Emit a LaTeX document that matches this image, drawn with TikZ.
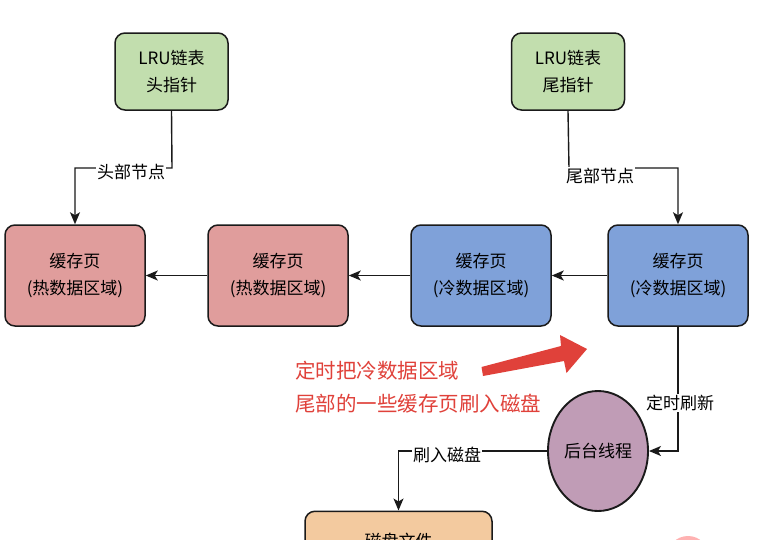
\documentclass[tikz,border=0pt]{standalone}
\usepackage{fontspec}
\setmainfont{Noto Sans CJK SC}
\usetikzlibrary{arrows.meta,shapes.geometric}
\definecolor{boxgreen}{HTML}{C2DEAE}
\definecolor{boxred}{HTML}{E09D9C}
\definecolor{boxblue}{HTML}{7FA1D9}
\definecolor{boxpurple}{HTML}{C09CB6}
\definecolor{boxorange}{HTML}{F3CA9F}
\definecolor{noteRed}{HTML}{E0413A}
\definecolor{edge}{HTML}{1A1A1A}
\tikzset{
  box/.style={draw=edge, line width=1.5pt, rounded corners=10pt, align=center,
    font=\fontsize{17}{27}\selectfont, inner sep=0pt},
  ptrbox/.style={box, fill=boxgreen, minimum width=113pt, minimum height=77pt},
  pagebox/.style={box, minimum width=140pt, minimum height=101pt},
  link/.style={draw=edge, line width=1.4pt, -{Stealth[length=12pt,width=10pt,inset=3pt]}},
  lbl/.style={fill=white, font=\fontsize{17}{20}\selectfont, inner sep=1pt}
}
\begin{document}
\begin{tikzpicture}[x=1pt,y=-1pt]
\clip (0,0) rectangle (764,539);
\fill[white] (0,0) rectangle (764,539);

\node[ptrbox] (head) at (171.5,71.5) {LRU链表\\头指针};
\node[ptrbox] (tail) at (568,71.5) {LRU链表\\尾指针};

\node[pagebox, fill=boxred]  (h1) at (75,275.5)  {缓存页\\(热数据区域)};
\node[pagebox, fill=boxred]  (h2) at (278,275.5) {缓存页\\(热数据区域)};
\node[pagebox, fill=boxblue] (c1) at (481,275.5) {缓存页\\(冷数据区域)};
\node[pagebox, fill=boxblue] (c2) at (678,275.5) {缓存页\\(冷数据区域)};

\node[draw=edge, line width=1.9pt, fill=boxpurple, ellipse, minimum width=100pt,
  minimum height=120pt, inner sep=0pt, font=\fontsize{17}{20}\selectfont] (bg) at (598,451) {后台线程};

\node[box, fill=boxorange, minimum width=187pt, minimum height=60pt, anchor=north] (disk) at (398.5,510.5) {\raisebox{-14pt}{磁盘文件}};

\fill[red!30!white] (688,557) circle (21);

% connectors
\draw[link] (head.south) -- (172,168) -| (h1.north);
\node[lbl] at (131,172) {头部节点};
\draw[link] (tail.south) -- (569,168) -| (c2.north);
\node[lbl] at (600,176) {尾部节点};

\draw[link] (c2.west) -- (c1.east);
\draw[link] (c1.west) -- (h2.east);
\draw[link] (h2.west) -- (h1.east);

\draw[link] (c2.south) |- (bg.east);
\node[lbl] at (680,403) {定时刷新};
\draw[link] (bg.west) -| (disk.north);
\node[lbl] at (447,455) {刷入磁盘};

% red note and arrow
\node[anchor=north west, align=left, text=noteRed, inner sep=0pt,
  font=\fontsize{20.5}{33}\selectfont] (note) at (295,361) {定时把冷数据区域\\尾部的一些缓存页刷入磁盘};
\fill[noteRed] (481.5,367) -- (561,346) -- (560,335) -- (587,349) -- (566.5,373)
  -- (564,361) -- (483,376) -- cycle;
\end{tikzpicture}
\end{document}
